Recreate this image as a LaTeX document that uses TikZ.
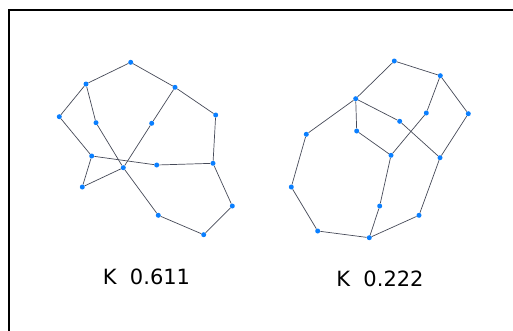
\documentclass[tikz,border=0pt]{standalone}
\usepackage{fontspec}
\setmainfont{DejaVu Sans}
\usepackage{xcolor}
\usepackage{tikz}
\definecolor{dotblue}{RGB}{10,127,255}
\definecolor{edgegray}{RGB}{70,74,88}
\tikzset{
    vtx/.style = {circle, fill = dotblue, inner sep = 0pt, minimum size = 5pt},
    edg/.style = {color = edgegray, line width = 0.7pt},
    score/.style = {font = \fontsize{21}{25}\selectfont, inner sep = 0pt, anchor = base}
}

\begin{document}
\begin{tikzpicture}[x = 1pt, y = -1pt]
    \useasboundingbox (0, 0) rectangle (513, 330);
    \draw[line width = 1.5pt] (9, 335) -- (9, 10) -- (520, 10);

    % left graph
    \node[vtx] (a1) at (130.7, 62.3) {};
    \node[vtx] (b1) at (86, 84) {};
    \node[vtx] (c1) at (175, 87.3) {};
    \node[vtx] (d1) at (59.3, 116.7) {};
    \node[vtx] (e1) at (96, 122.7) {};
    \node[vtx] (f1) at (151.7, 123.3) {};
    \node[vtx] (g1) at (215.7, 115) {};
    \node[vtx] (h1) at (91.7, 156) {};
    \node[vtx] (i1) at (123.3, 167.7) {};
    \node[vtx] (j1) at (156.7, 165) {};
    \node[vtx] (k1) at (213, 163.3) {};
    \node[vtx] (l1) at (82.3, 187) {};
    \node[vtx] (m1) at (158.3, 215.3) {};
    \node[vtx] (n1) at (232.3, 206) {};
    \node[vtx] (o1) at (203.7, 234.7) {};

    \draw[edg] (b1) -- (a1) -- (c1);
    \draw[edg] (b1) -- (d1) -- (h1) -- (l1) -- (i1);
    \draw[edg] (b1) -- (e1) -- (i1) -- (m1) -- (o1) -- (n1) -- (k1);
    \draw[edg] (c1) -- (f1) -- (i1);
    \draw[edg] (c1) -- (g1) -- (k1) -- (j1) -- (h1);

    \node[score] (s1) at (146.5, 284.3) {K\ \ 0.611};

    % right graph
    \node[vtx] (a2) at (394.3, 61) {};
    \node[vtx] (b2) at (440.3, 75.7) {};
    \node[vtx] (c2) at (355.7, 98.7) {};
    \node[vtx] (d2) at (468.3, 113.7) {};
    \node[vtx] (e2) at (426.3, 113) {};
    \node[vtx] (f2) at (399.7, 121.3) {};
    \node[vtx] (g2) at (306.3, 134.3) {};
    \node[vtx] (h2) at (356.7, 131) {};
    \node[vtx] (i2) at (391, 155.3) {};
    \node[vtx] (j2) at (440, 157.7) {};
    \node[vtx] (k2) at (291.3, 187) {};
    \node[vtx] (l2) at (379.7, 206) {};
    \node[vtx] (m2) at (419, 215.3) {};
    \node[vtx] (n2) at (317.7, 231) {};
    \node[vtx] (o2) at (369.3, 237.7) {};

    \draw[edg] (c2) -- (a2) -- (b2) -- (d2) -- (j2);
    \draw[edg] (b2) -- (e2) -- (i2) -- (l2) -- (o2);
    \draw[edg] (c2) -- (h2) -- (i2);
    \draw[edg] (c2) -- (f2) -- (j2) -- (m2) -- (o2);
    \draw[edg] (c2) -- (g2) -- (k2) -- (n2) -- (o2);

    \node[score] (s2) at (380, 286.3) {K\ \ 0.222};
\end{tikzpicture}
\end{document}
